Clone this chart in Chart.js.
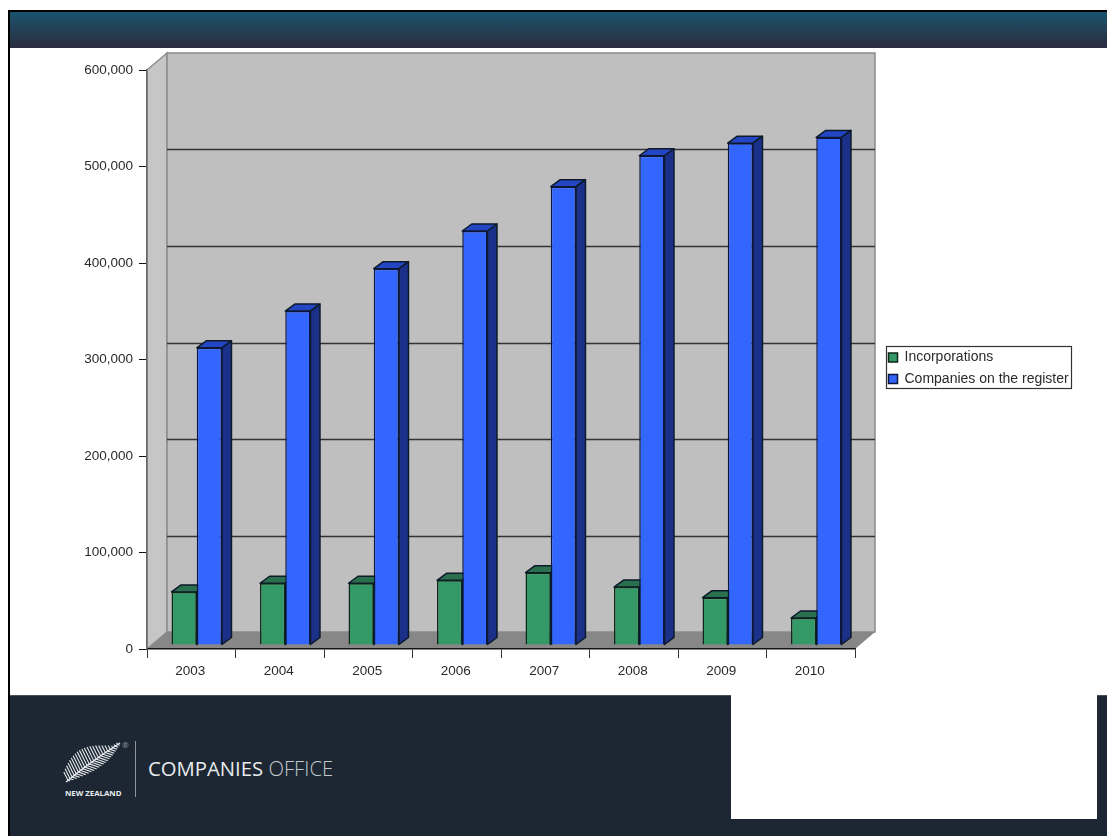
<!DOCTYPE html>
<html>
<head>
<meta charset="utf-8">
<title>Companies Office</title>
<script src="https://cdn.jsdelivr.net/npm/chart.js@4"></script>
<style>
html, body { margin: 0; padding: 0; background: #fff; }
#page { position: relative; width: 1107px; height: 836px; overflow: hidden; background: #fff; }
#frameTop { position: absolute; left: 8px; top: 10px; right: 0; height: 2px; background: #000; }
#frameLeft { position: absolute; left: 8px; top: 10px; width: 2px; height: 826px; background: #000; }
#header { position: absolute; left: 10px; top: 12px; right: 0; height: 36px; background: linear-gradient(#19536c, #2b2d3f); }
#footer { position: absolute; left: 10px; top: 695px; right: 0; bottom: 0; background: #1c2733; border-top: 1px solid #465059; box-sizing: border-box; }
#whiteBox { position: absolute; left: 731px; top: 695px; width: 366px; height: 124px; background: #fff; }
#rule { position: absolute; left: 135px; top: 741px; width: 1px; height: 56px; background: #8d949b; }
#brand { position: absolute; left: 148px; top: 754px; color: #e8ebee; font: 500 20.3px "Open Sans", sans-serif; white-space: nowrap; }
#brand span { font-weight: 300; color: #c3c8cd; }
#nz { position: absolute; left: 65px; top: 788px; color: #e8ebee; font: 700 7.8px "Open Sans", sans-serif; white-space: nowrap; }
#reg { position: absolute; left: 122px; top: 739px; color: #9aa1a8; font: 8px "Open Sans", sans-serif; }
#fern { position: absolute; left: 60px; top: 738px; }
#chart { position: absolute; left: 0; top: 0; }
</style>
</head>
<body>
<div id="page">
    <div id="frameTop"></div>
    <div id="frameLeft"></div>
    <div id="header"></div>
    <div id="footer"></div>
    <div id="whiteBox"></div>
    <svg id="fern" width="66" height="52"></svg>
    <div id="nz">NEW ZEALAND</div>
    <div id="reg">®</div>
    <div id="rule"></div>
    <div id="brand">COMPANIES <span>OFFICE</span></div>
    <canvas id="chart" width="1107" height="836"></canvas>
</div>
<script>
var years = ['2003', '2004', '2005', '2006', '2007', '2008', '2009', '2010'];
var incorporations = [55000, 64000, 64000, 67000, 75000, 60000, 49000, 28000];
var onRegister = [308000, 346000, 390000, 429000, 475000, 507000, 520000, 526000];
var seriesNames = ['Incorporations', 'Companies on the register'];
var frontColors = ['#339966', '#3366ff'];
var topColors = ['#2a6f4e', '#2546c4'];
var sideColors = ['#22563d', '#1b3088'];

// depth of the plot box and of the bars
var wallDx = 20, wallDy = -17;
var barDx = 9.5, barDy = -7;
var shiftX = 5.5, shiftY = -4;

function poly(ctx, pts, fill, stroke) {
    ctx.beginPath();
    ctx.moveTo(pts[0][0], pts[0][1]);
    for (var i = 1; i < pts.length; i++) {
        ctx.lineTo(pts[i][0], pts[i][1]);
    }
    ctx.closePath();
    ctx.fillStyle = fill;
    ctx.fill();
    if (stroke) {
        ctx.strokeStyle = stroke;
        ctx.stroke();
    }
}

var box3d = {
    id: 'box3d',
    beforeDraw: function(chart) {
        var ctx = chart.ctx, a = chart.chartArea, y = chart.scales.y;
        var legend = chart.legend;
        legend.left = 881;
        legend.right = 1071;
        legend.top = 343;
        legend.bottom = 800;
        ctx.save();
        ctx.lineWidth = 1.5;
        poly(ctx, [[a.left, a.top], [a.left + wallDx, a.top + wallDy], [a.left + wallDx, a.bottom + wallDy], [a.left, a.bottom]], '#c6c6c6', '#8c8c8c');
        poly(ctx, [[a.left + wallDx, a.top + wallDy], [a.right + wallDx, a.top + wallDy], [a.right + wallDx, a.bottom + wallDy], [a.left + wallDx, a.bottom + wallDy]], '#bfbfbf', '#8c8c8c');
        poly(ctx, [[a.left, a.bottom], [a.left + wallDx, a.bottom + wallDy], [a.right + wallDx, a.bottom + wallDy], [a.right, a.bottom]], '#878787');
        // grid lines sit on the back wall
        ctx.lineWidth = 1.3;
        ctx.strokeStyle = '#333';
        y.ticks.forEach(function(t) {
            if (t.value === 0 || t.value === y.max) {
                return;
            }
            var py = Math.round(y.getPixelForValue(t.value) + wallDy) + 0.5;
            ctx.beginPath();
            ctx.moveTo(a.left + wallDx, py);
            ctx.lineTo(a.right + wallDx, py);
            ctx.stroke();
        });
        // legend frame
        ctx.lineWidth = 1.2;
        ctx.fillStyle = '#fff';
        ctx.fillRect(886.5, 346.5, 185, 42);
        ctx.strokeStyle = '#333';
        ctx.strokeRect(886.5, 346.5, 185, 42);
        ctx.restore();
    },
    beforeDatasetsDraw: function(chart) {
        var ctx = chart.ctx;
        ctx.save();
        ctx.translate(shiftX, shiftY);
        ctx.lineWidth = 1.5;
        ctx.lineJoin = 'round';
        chart.data.datasets.forEach(function(ds, d) {
            chart.getDatasetMeta(d).data.forEach(function(bar) {
                var p = bar.getProps(['x', 'y', 'base', 'width'], true);
                var l = p.x - p.width / 2, r = p.x + p.width / 2;
                poly(ctx, [[l, p.y], [l + barDx, p.y + barDy], [r + barDx, p.y + barDy], [r, p.y]], topColors[d], '#0c1a2a');
                poly(ctx, [[r, p.y], [r + barDx, p.y + barDy], [r + barDx, p.base + barDy], [r, p.base]], sideColors[d], '#0c1a2a');
            });
        });
    },
    afterDatasetsDraw: function(chart) {
        chart.ctx.restore();
    }
};

Chart.defaults.font.family = '"Liberation Sans", Arial, sans-serif';
Chart.defaults.font.size = 13.5;
Chart.defaults.color = '#2a2a2a';

new Chart(document.getElementById('chart'), {
    type: 'bar',
    data: {
        labels: years,
        datasets: [
            { label: seriesNames[0], data: incorporations, backgroundColor: frontColors[0], borderColor: '#0c2618', borderWidth: 1.5, clip: false },
            { label: seriesNames[1], data: onRegister, backgroundColor: frontColors[1], borderColor: '#0a1540', borderWidth: 1.5, clip: false }
        ]
    },
    plugins: [box3d],
    options: {
        responsive: false,
        devicePixelRatio: 1,
        animation: false,
        layout: { padding: { left: 60, top: 70, right: 252, bottom: 0 } },
        categoryPercentage: 0.57,
        barPercentage: 1,
        plugins: {
            tooltip: { enabled: false },
            legend: {
                position: 'chartArea',
                align: 'start',
                labels: { boxWidth: 9, boxHeight: 9, padding: 7.5, color: '#2a2a2a', font: { size: 14 } }
            }
        },
        scales: {
            x: {
                afterFit: function(s) { s.height = 836 - 649; },
                border: { color: '#111', width: 1.5 },
                grid: { offset: true, drawOnChartArea: false, color: '#333', tickLength: 9 },
                ticks: { padding: 5, maxRotation: 0, labelOffset: -1 }
            },
            y: {
                min: 0,
                max: 600000,
                afterFit: function(s) { s.width = 87; },
                border: { color: '#666', width: 1.5 },
                grid: { drawOnChartArea: false, color: '#111', tickLength: 8 },
                ticks: {
                    stepSize: 100000,
                    padding: 6,
                    callback: function(v) { return v.toLocaleString('en-US'); }
                }
            }
        }
    }
});

// silver fern mark, decoration only
(function() {
    var svg = document.getElementById('fern'), out = '';
    function bez(t) {
        var u = 1 - t;
        return [u * u * 6 + 2 * u * t * 30 + t * t * 60, u * u * 44 + 2 * u * t * 24 + t * t * 5];
    }
    out += '<path d="M6 44 Q30 24 60 5" stroke="#e8ebee" stroke-width="1.4" fill="none"/>';
    for (var i = 1; i < 24; i++) {
        var t = i / 24, p = bez(t);
        var up = 15 * Math.sin(Math.PI * Math.min(1, t + 0.12)) + 2;
        var down = 9 * Math.sin(Math.PI * t) + 1;
        out += '<line x1="' + p[0] + '" y1="' + p[1] + '" x2="' + (p[0] - up * 0.45) + '" y2="' + (p[1] - up * 0.9) + '" stroke="#e8ebee" stroke-width="1.1"/>';
        out += '<line x1="' + p[0] + '" y1="' + p[1] + '" x2="' + (p[0] + down) + '" y2="' + (p[1] + down * 0.35) + '" stroke="#e8ebee" stroke-width="1.1"/>';
    }
    svg.innerHTML = out;
})();
</script>
</body>
</html>
